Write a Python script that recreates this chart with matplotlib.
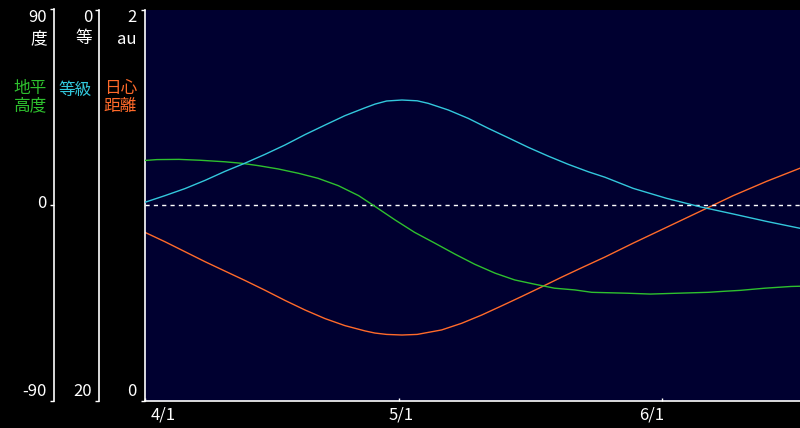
import matplotlib
matplotlib.use("Agg")
import matplotlib.pyplot as plt
import matplotlib.transforms as mtransforms

plt.rcParams['font.family'] = ['Noto Sans CJK JP', 'DejaVu Sans']

# ---- data (days since 4/1) ----
alt_days = [0, 1.4, 4.0, 6.5, 9.4, 11.4, 13.4, 15.7, 18.1, 20.4, 22.8, 25.2, 27.1, 29.5,
            31.8, 34.2, 36.6, 38.9, 41.3, 43.6, 46.0, 48.3, 50.7, 52.7, 56.8, 59.6,
            62.9, 66.4, 68.4, 70.2, 73.1, 76.2, 77.24]
altitude = [20.5, 20.9, 21.0, 20.6, 19.9, 19.2, 18.1, 16.6, 14.6, 12.3, 8.9, 4.3, -0.6, -6.9,
            -12.6, -17.6, -22.7, -27.3, -31.4, -34.5, -36.5, -38.3, -39.1, -40.2, -40.6, -41.0,
            -40.6, -40.2, -39.7, -39.3, -38.3, -37.5, -37.4]

mag_days = [0, 2.36, 4.72, 7.08, 9.43, 11.79, 14.15, 16.51, 18.87, 21.23, 23.58, 25.94,
            27.12, 28.5, 30.3, 32.1, 33.4, 35.77, 38.13, 40.49, 42.84, 45.2, 47.56, 49.92,
            52.28, 54.25, 57.58, 61.52, 65.45, 69.38, 73.31, 77.24]
magnitude = [9.86, 9.52, 9.16, 8.74, 8.28, 7.86, 7.41, 6.93, 6.40, 5.91, 5.43, 5.03,
             4.84, 4.68, 4.63, 4.67, 4.80, 5.14, 5.57, 6.08, 6.56, 7.05, 7.50, 7.92,
             8.30, 8.58, 9.15, 9.66, 10.09, 10.46, 10.84, 11.19]

dist_days = [0, 2.36, 4.72, 7.08, 9.43, 11.79, 14.15, 16.51, 18.87, 21.23, 23.58, 25.94,
             27.12, 28.5, 30.3, 32.1, 34.99, 37.35, 39.7, 42.06, 44.42, 46.78, 49.14, 51.5,
             54.25, 57.58, 61.52, 65.45, 69.38, 73.31, 77.24]
distance = [0.860, 0.812, 0.761, 0.710, 0.662, 0.614, 0.564, 0.512, 0.463, 0.419, 0.383, 0.356,
            0.345, 0.338, 0.335, 0.338, 0.361, 0.395, 0.437, 0.484, 0.532, 0.581, 0.631, 0.679,
            0.734, 0.805, 0.886, 0.967, 1.048, 1.121, 1.188]

date_ticks = [0, 30, 61]
date_labels = ['4/1', '5/1', '6/1']
date_label_pos = [2.1, 30.2, 59.7]

# ---- layout ----
W, H = 800, 428
fig = plt.figure(figsize=(8, 4.28), dpi=100, facecolor='black')
L, R, T, B = 145, 800, 9.5, 400.5
ax = fig.add_axes([L / W, 1 - B / H, (R - L) / W, (B - T) / H])
ax.set_facecolor('#000030')
WHITE = 'white'
GREEN = '#2ec02e'
CYAN = '#33c8dc'
ORANGE = '#ff6a2a'
px = 0.72  # points per pixel

xmax = 77.25
ax.set_xlim(0, xmax)
ax.set_ylim(0, 2)
for s in ['top', 'right']:
    ax.spines[s].set_visible(False)
for s in ['left', 'bottom']:
    ax.spines[s].set_color(WHITE)
    ax.spines[s].set_linewidth(1.2)
ax.set_yticks([0, 2])
ax.set_yticklabels([])
ax.tick_params(axis='y', direction='out', length=4 * px, width=1, color=WHITE)
ax.set_xticks(date_ticks)
ax.set_xticklabels([])
ax.tick_params(axis='x', direction='in', length=3 * px, width=1, color=WHITE)

ax_alt = ax.twinx()
ax_alt.set_ylim(-90, 90)
ax_mag = ax.twinx()
ax_mag.set_ylim(20, 0)
for a, off, ticks in [(ax_alt, 91, [-90, 0, 90]), (ax_mag, 46, [0, 20])]:
    for s in ['top', 'right', 'bottom']:
        a.spines[s].set_visible(False)
    a.spines['left'].set_visible(True)
    a.spines['left'].set_position(('outward', off * px))
    a.spines['left'].set_color(WHITE)
    a.spines['left'].set_linewidth(1.2)
    a.yaxis.set_ticks_position('left')
    a.set_yticks(ticks)
    a.set_yticklabels([])
    a.tick_params(axis='y', direction='out', length=4 * px, width=1, color=WHITE)

ax_alt.axhline(0, color=WHITE, lw=1.0, dashes=(3, 3))

ax_alt.plot(alt_days, altitude, color=GREEN, lw=1.0)
ax_mag.plot(mag_days, magnitude, color=CYAN, lw=1.0)
ax.plot(dist_days, distance, color=ORANGE, lw=1.0)

trans = mtransforms.blended_transform_factory(ax.transData, fig.transFigure)
for p, lab in zip(date_label_pos, date_labels):
    ax.text(p, 1 - 415 / H, lab, transform=trans, color=WHITE, fontsize=12,
            ha='center', va='center')

def ftext(x, y, s, color=WHITE, ha='right', **kw):
    fig.text(x / W, 1 - y / H, s, color=color, fontsize=12, ha=ha, va='center', **kw)

ftext(47, 17, '90')
ftext(47, 39, '度')
ftext(47, 204, '0')
ftext(47, 391, '-90')
ftext(92, 17, '0')
ftext(92, 39, '等')
ftext(92, 391, '20')
ftext(137, 17, '2')
ftext(137, 39, 'au')
ftext(137, 391, '0')

ftext(47, 97.5, '地平\n高度', color=GREEN, linespacing=1.0)
ftext(92, 90, '等級', color=CYAN)
ftext(137, 97.5, '日心\n距離', color=ORANGE, linespacing=1.0)

fig.savefig('out.png', dpi=100, facecolor='black')
